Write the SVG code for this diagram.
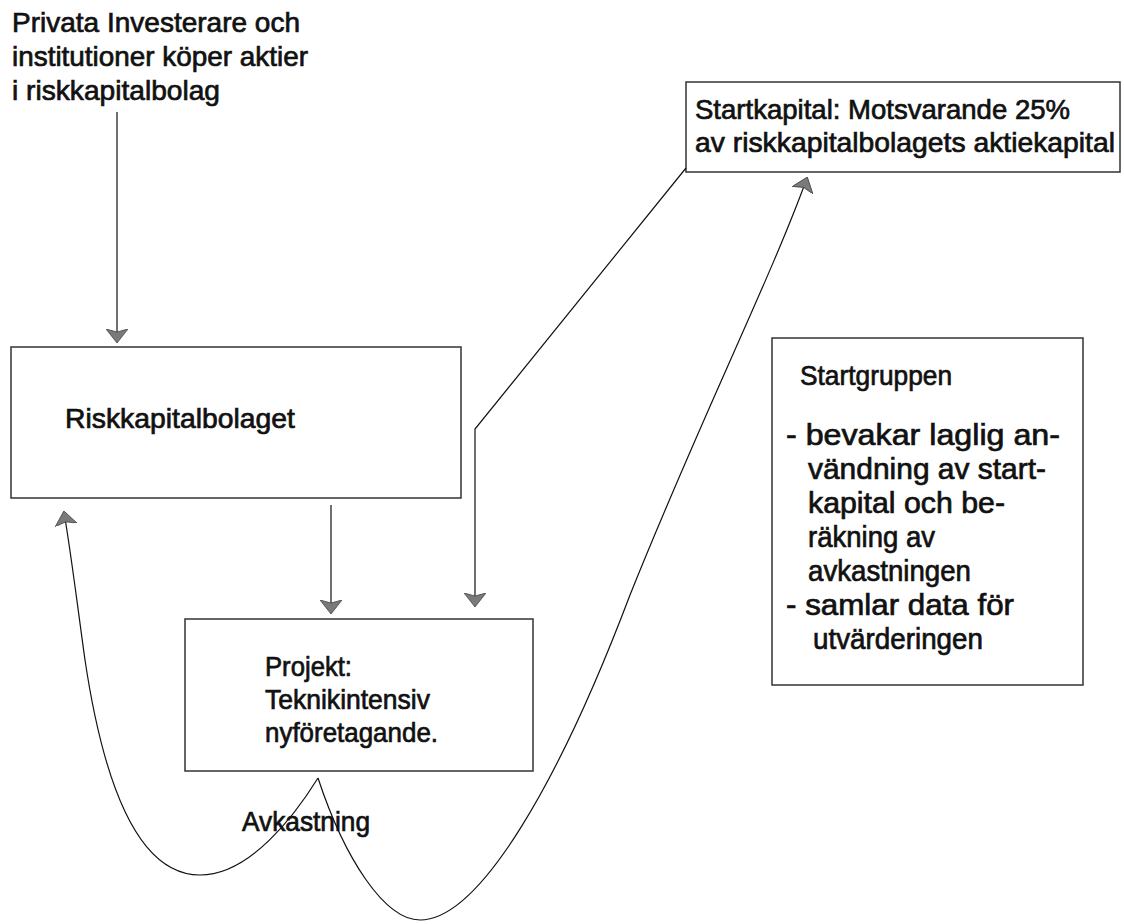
<svg xmlns="http://www.w3.org/2000/svg" width="1124" height="924" viewBox="0 0 1124 924">
<style>
.box{fill:#fff;stroke:#333;stroke-width:1.5}
.t{font-family:"Liberation Sans",Arial,sans-serif;font-size:28px;fill:#111;stroke:#111;stroke-width:0.7}
.l{font-size:29.5px}
.c{fill:none;stroke:#111;stroke-width:1.2}
</style>
<defs>
<marker id="ah" viewBox="0 0 14 22" refX="13" refY="11" markerWidth="14" markerHeight="22" markerUnits="userSpaceOnUse" orient="auto">
<path d="M0,0 L14,11 L0,22 L3,11 Z" fill="#7a7a7a" stroke="#444" stroke-width="0.8"/>
</marker>
</defs>
<rect width="1124" height="924" fill="#fff"/>
<g id="investerare">
<text class="t" x="12" y="32" textLength="288" lengthAdjust="spacingAndGlyphs">Privata Investerare och</text>
<text class="t" x="12" y="66" textLength="296" lengthAdjust="spacingAndGlyphs">institutioner köper aktier</text>
<text class="t" x="12" y="100" textLength="208" lengthAdjust="spacingAndGlyphs">i riskkapitalbolag</text>
</g>
<g id="riskkapitalbolaget">
<rect class="box" x="11" y="347" width="450" height="151"/>
<text class="t" x="65" y="428" textLength="230" lengthAdjust="spacingAndGlyphs">Riskkapitalbolaget</text>
</g>
<g id="startkapital">
<rect class="box" x="686" y="82" width="434" height="90"/>
<text class="t" x="695" y="119" textLength="375" lengthAdjust="spacingAndGlyphs">Startkapital: Motsvarande 25%</text>
<text class="t" x="695" y="152" textLength="420" lengthAdjust="spacingAndGlyphs">av riskkapitalbolagets aktiekapital</text>
</g>
<g id="startgruppen">
<rect class="box" x="772" y="338" width="311" height="347"/>
<text class="t" x="800" y="385" textLength="152" lengthAdjust="spacingAndGlyphs">Startgruppen</text>
<text class="t l" x="786" y="445" textLength="274" lengthAdjust="spacingAndGlyphs">- bevakar laglig an-</text>
<text class="t l" x="808" y="479" textLength="238" lengthAdjust="spacingAndGlyphs">vändning av start-</text>
<text class="t l" x="808" y="513" textLength="197" lengthAdjust="spacingAndGlyphs">kapital och be-</text>
<text class="t l" x="808" y="547" textLength="127" lengthAdjust="spacingAndGlyphs">räkning av</text>
<text class="t l" x="808" y="581" textLength="163" lengthAdjust="spacingAndGlyphs">avkastningen</text>
<text class="t l" x="786" y="615" textLength="228" lengthAdjust="spacingAndGlyphs">-  samlar data för</text>
<text class="t l" x="813" y="649" textLength="170" lengthAdjust="spacingAndGlyphs">utvärderingen</text>
</g>
<g id="projekt">
<rect class="box" x="185" y="619" width="348" height="152"/>
<text class="t" x="265" y="676" textLength="87" lengthAdjust="spacingAndGlyphs">Projekt:</text>
<text class="t" x="265" y="709" textLength="165" lengthAdjust="spacingAndGlyphs">Teknikintensiv</text>
<text class="t" x="265" y="742" textLength="173" lengthAdjust="spacingAndGlyphs">nyföretagande.</text>
</g>
<g id="avkastning-label">
<text class="t" x="242" y="831" textLength="128" lengthAdjust="spacingAndGlyphs">Avkastning</text>
</g>
<g id="connectors">
<path class="c" d="M117,112 L117,342" marker-end="url(#ah)"/>
<path class="c" d="M331,505 L331,613" marker-end="url(#ah)"/>
<path class="c" d="M686,168 L475,429 L475,606" marker-end="url(#ah)"/>
<path class="c" d="M318,778 C295,815 250,875 200,875 C130,875 100,760 85,660 C78,610 72,560 64,512" marker-end="url(#ah)"/>
<path class="c" d="M318,778 C345,860 385,920 420,920 C480,920 560,780 630,595 C700,420 770,280 807,178" marker-end="url(#ah)"/>
</g>
</svg>
